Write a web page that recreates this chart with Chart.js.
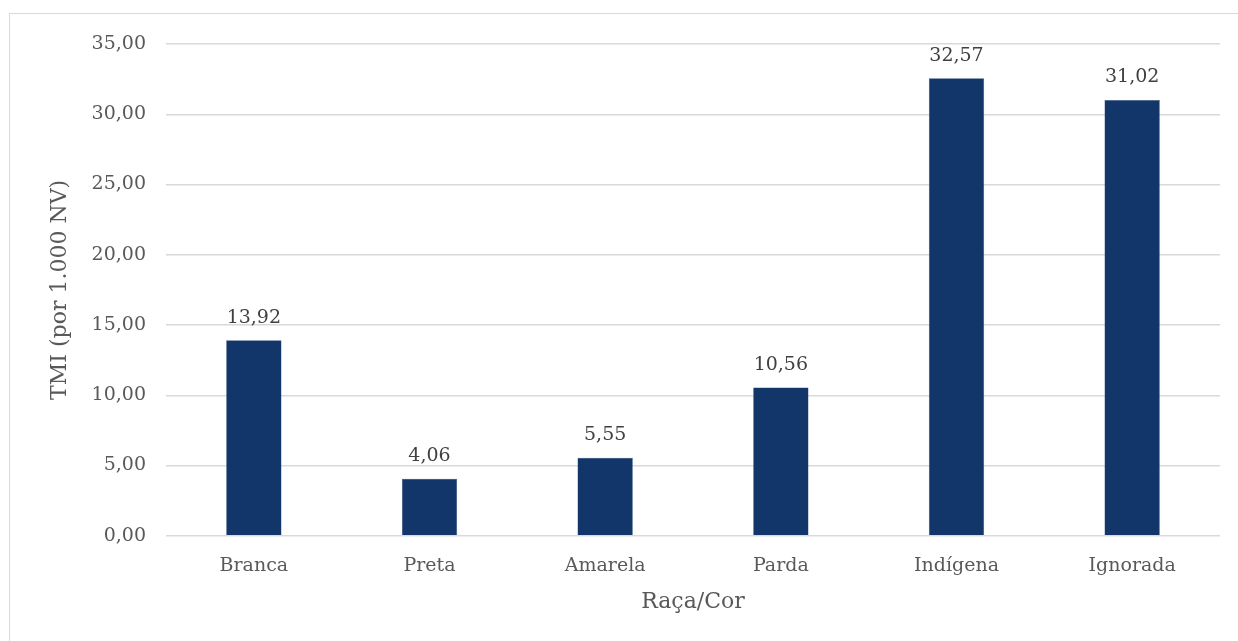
<!DOCTYPE html>
<html>
<head>
<meta charset="utf-8">
<script src="https://cdn.jsdelivr.net/npm/chart.js@4"></script>
<style>
    html, body { margin: 0; padding: 0; background: #fff; }
    .frame { position: absolute; left: 9px; top: 13px; width: 1300px; height: 700px; border: 1.5px solid #d9d9d9; }
    .wrap { position: absolute; left: 0; top: 0; width: 1238px; height: 641px; }
</style>
</head>
<body>
<div class="frame"></div>
<div class="wrap"><canvas id="tmiChart" width="1238" height="641"></canvas></div>
<script>
const categories = ["Branca", "Preta", "Amarela", "Parda", "Indígena", "Ignorada"];
const tmiValues = [13.92, 4.06, 5.55, 10.56, 32.57, 31.02];
const yTicks = [0, 5, 10, 15, 20, 25, 30, 35];

const FONT = "'DejaVu Serif', 'Liberation Serif', serif";
const fmt = (v) => v.toFixed(2).replace(".", ",");

const valueLabels = {
    id: "valueLabels",
    afterDatasetsDraw(chart) {
        const ctx = chart.ctx;
        const meta = chart.getDatasetMeta(0);
        ctx.save();
        ctx.font = "19px " + FONT;
        ctx.fillStyle = "#404040";
        ctx.textAlign = "center";
        ctx.textBaseline = "bottom";
        meta.data.forEach((bar, i) => {
            ctx.fillText(fmt(tmiValues[i]), bar.x, bar.y - 13);
        });
        ctx.restore();
    },
};

function initChart() {
    const ctx = document.getElementById("tmiChart");
    new Chart(ctx, {
        type: "bar",
        data: {
            labels: categories,
            datasets: [{
                data: tmiValues,
                backgroundColor: "#13366a",
                borderColor: "#2e4f7f",
                borderWidth: 0.5,
                categoryPercentage: 1,
                barPercentage: 0.315,
            }],
        },
        options: {
            responsive: false,
            animation: false,
            layout: { padding: { top: 44, right: 18, left: 47, bottom: 26 } },
            plugins: { legend: { display: false }, tooltip: { enabled: false } },
            scales: {
                x: {
                    grid: { display: false },
                    border: { display: false },
                    ticks: { color: "#595959", font: { family: FONT, size: 19 }, padding: 11 },
                    title: {
                        display: true,
                        text: "Raça/Cor",
                        color: "#595959",
                        font: { family: FONT, size: 22 },
                        padding: { top: 0, bottom: 0 },
                    },
                },
                y: {
                    min: 0,
                    max: 35,
                    afterBuildTicks: (scale) => {
                        scale.ticks = yTicks.map((v) => ({ value: v }));
                    },
                    afterFit: (scale) => {
                        scale.width = 119;
                    },
                    grid: { color: "#d9d9d9", lineWidth: 1.5, drawTicks: false },
                    border: { display: false },
                    ticks: {
                        color: "#595959",
                        font: { family: FONT, size: 19 },
                        padding: 20,
                        callback: (v) => fmt(v),
                    },
                    title: {
                        display: true,
                        text: "TMI (por 1.000 NV)",
                        color: "#595959",
                        font: { family: FONT, size: 22 },
                        padding: { top: 0, bottom: 0 },
                    },
                },
            },
        },
        plugins: [valueLabels],
    });
}

document.addEventListener("DOMContentLoaded", initChart);
</script>
</body>
</html>
